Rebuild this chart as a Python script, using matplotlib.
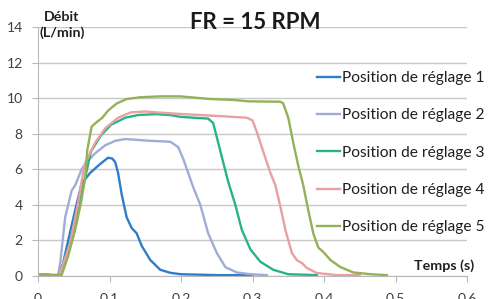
import matplotlib
matplotlib.use('Agg')
import matplotlib.pyplot as plt

plt.rcParams['font.family'] = ['Lato', 'DejaVu Sans']

# curves: time (s), flow (L/min)
t1 = [0.0, 0.01, 0.02, 0.028, 0.035, 0.04, 0.052, 0.061, 0.073, 0.087, 0.098, 0.104, 0.108,
      0.112, 0.117, 0.124, 0.131, 0.138, 0.145, 0.157, 0.171, 0.185, 0.2, 0.25, 0.3]
q1 = [0.1, 0.08, 0.05, 0.05, 0.7, 1.6, 3.7, 5.2, 5.8, 6.3, 6.65, 6.6, 6.4,
      5.8, 4.6, 3.3, 2.7, 2.4, 1.7, 0.9, 0.35, 0.18, 0.1, 0.05, 0.05]

t2 = [0.0, 0.01, 0.02, 0.028, 0.031, 0.038, 0.047, 0.052, 0.061, 0.068, 0.08, 0.094, 0.108,
      0.122, 0.14, 0.157, 0.185, 0.196, 0.203, 0.21, 0.217, 0.227, 0.238, 0.25, 0.262,
      0.278, 0.297, 0.32]
q2 = [0.1, 0.08, 0.05, 0.05, 0.7, 3.3, 4.8, 5.1, 6.0, 6.4, 6.9, 7.35, 7.6,
      7.7, 7.65, 7.6, 7.55, 7.25, 6.6, 5.8, 5.0, 4.0, 2.4, 1.3, 0.5,
      0.2, 0.1, 0.05]

t3 = [0.0, 0.01, 0.02, 0.03, 0.04, 0.054, 0.063, 0.074, 0.088, 0.102, 0.122, 0.14, 0.165,
      0.185, 0.199, 0.217, 0.238, 0.245, 0.252, 0.259, 0.266, 0.276, 0.285, 0.297, 0.311,
      0.329, 0.35, 0.39]
q3 = [0.1, 0.08, 0.05, 0.05, 1.1, 3.3, 5.0, 7.0, 7.9, 8.5, 8.9, 9.05, 9.1,
      9.05, 8.95, 8.9, 8.85, 8.6, 7.5, 6.4, 5.3, 4.0, 2.6, 1.5, 0.8,
      0.35, 0.1, 0.05]

t4 = [0.0, 0.01, 0.02, 0.03, 0.045, 0.056, 0.063, 0.066, 0.08, 0.094, 0.112, 0.13, 0.15,
      0.165, 0.203, 0.25, 0.292, 0.3, 0.306, 0.315, 0.325, 0.332, 0.339, 0.346, 0.355,
      0.362, 0.37, 0.376, 0.39, 0.418, 0.45]
q4 = [0.1, 0.08, 0.05, 0.05, 1.85, 4.1, 5.8, 6.35, 7.5, 8.3, 8.9, 9.2, 9.25,
      9.2, 9.1, 9.0, 8.9, 8.75, 8.1, 7.0, 5.8, 5.1, 3.9, 2.6, 1.3,
      0.9, 0.7, 0.45, 0.17, 0.05, 0.05]

t5 = [0.0, 0.01, 0.02, 0.033, 0.042, 0.052, 0.06, 0.066, 0.069, 0.075, 0.082, 0.09, 0.098,
      0.11, 0.124, 0.143, 0.171, 0.199, 0.227, 0.241, 0.273, 0.294, 0.339, 0.343, 0.35,
      0.357, 0.364, 0.371, 0.378, 0.385, 0.392, 0.399, 0.409, 0.423, 0.441, 0.465, 0.488]
q5 = [0.1, 0.08, 0.05, 0.05, 1.1, 2.6, 4.1, 5.5, 7.1, 8.4, 8.65, 8.9, 9.3,
      9.7, 9.95, 10.05, 10.1, 10.1, 10.0, 9.95, 9.9, 9.82, 9.8, 9.7, 8.9,
      7.5, 6.2, 5.1, 3.7, 2.4, 1.6, 1.35, 0.9, 0.5, 0.2, 0.1, 0.05]

labels = ['Position de réglage 1', 'Position de réglage 2', 'Position de réglage 3',
          'Position de réglage 4', 'Position de réglage 5']
colors = ['#2f7dc8', '#a0acd8', '#27b38a', '#e8a0a0', '#93b156']

fig = plt.figure(figsize=(4.88, 2.99), dpi=100)
ax = fig.add_axes([38 / 488, 23 / 299, 429 / 488, 249 / 299])

for t, q, lab, c in zip([t1, t2, t3, t4, t5], [q1, q2, q3, q4, q5], labels, colors):
    ax.plot(t, q, color=c, lw=1.7, label=lab)

ax.set_xlim(0, 0.6)
ax.set_ylim(0, 14)
ax.set_xticks([0, 0.1, 0.2, 0.3, 0.4, 0.5, 0.6])
ax.set_xticklabels(['0', '0.1', '0.2', '0.3', '0.4', '0.5', '0.6'])
ax.set_yticks(range(0, 15, 2))
ax.grid(axis='y', color='#c8c8c8', lw=1)
ax.set_axisbelow(True)
for s in ['top', 'right']:
    ax.spines[s].set_visible(False)
for s in ['left', 'bottom']:
    ax.spines[s].set_color('#b8b8b8')
ax.tick_params(axis='both', colors='#b8b8b8', labelcolor='#404040', labelsize=10, length=4)
ax.tick_params(axis='x', pad=8)
ax.tick_params(axis='y', pad=7)

ax.legend(loc='upper left', bbox_to_anchor=(317 / 488, 1 - 71 / 299), bbox_transform=fig.transFigure,
          frameon=False, fontsize=11.2, handlelength=1.5, handletextpad=0.1,
          borderpad=0, borderaxespad=0, labelspacing=1.5, labelcolor='#202020')

fig.text(255 / 488, 1 - 29 / 299, 'FR = 15 RPM', ha='center', va='baseline',
         fontsize=16, fontweight='bold', color='#1a1a1a')
fig.text(62 / 488, 1 - 11 / 299, 'Débit\n(L/min)', ha='center', va='top', ma='center',
         fontsize=10.3, fontweight='bold', color='#202020', linespacing=1.3)
fig.text(474 / 488, 1 - 270 / 299, 'Temps (s)', ha='right', va='baseline',
         fontsize=10.3, fontweight='bold', color='#202020')

fig.savefig('out.png', dpi=100)
